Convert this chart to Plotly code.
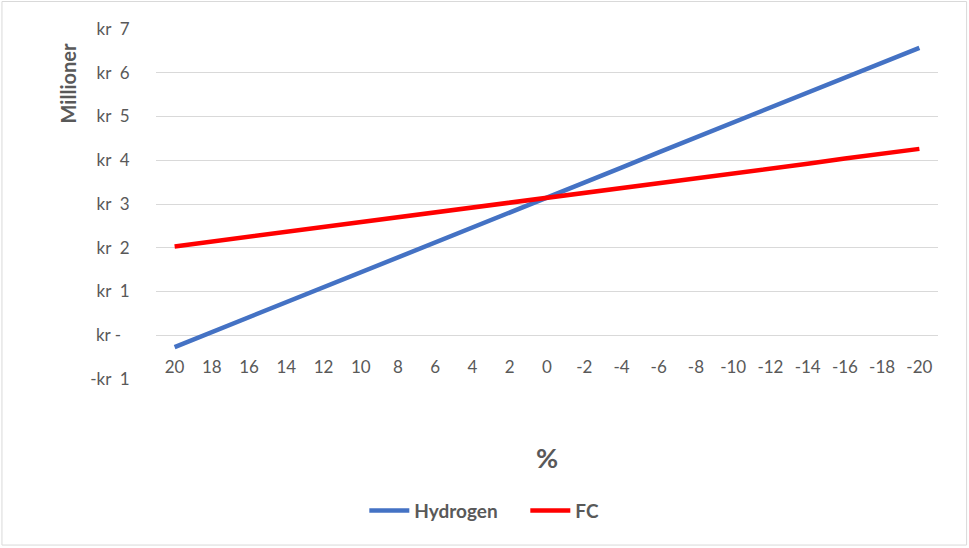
import plotly.graph_objects as go

# Sensitivity of cost (million kr) to percentage change
pct_labels = ["20", "18", "16", "14", "12", "10", "8", "6", "4", "2", "0",
              "-2", "-4", "-6", "-8", "-10", "-12", "-14", "-16", "-18", "-20"]
hydrogen = [-0.27, 0.07, 0.42, 0.76, 1.10, 1.44, 1.79, 2.13, 2.47, 2.81, 3.15,
            3.49, 3.83, 4.18, 4.52, 4.86, 5.20, 5.55, 5.89, 6.23, 6.57]
fc = [2.03, 2.14, 2.25, 2.37, 2.48, 2.59, 2.70, 2.81, 2.92, 3.03, 3.15,
      3.26, 3.37, 3.48, 3.59, 3.70, 3.81, 3.92, 4.04, 4.15, 4.26]

y_ticks = [-1, 0, 1, 2, 3, 4, 5, 6, 7]
y_ticktext = ["-kr\u00a0\u00a01", "kr\u00a0-\u2002", "kr\u00a0\u00a01", "kr\u00a0\u00a02",
              "kr\u00a0\u00a03", "kr\u00a0\u00a04", "kr\u00a0\u00a05", "kr\u00a0\u00a06",
              "kr\u00a0\u00a07"]

W, H = 969, 548
L, R, T, B = 155.6, 31.1, 29, 168.7
pw, ph = W - L - R, H - T - B

FONT = "Lato, 'Open Sans', sans-serif"
GREY = "#595959"

fig = go.Figure()
fig.add_trace(go.Scatter(x=pct_labels, y=hydrogen, mode="lines", name="Hydrogen",
                         line=dict(color="#4472C4", width=4.5)))
fig.add_trace(go.Scatter(x=pct_labels, y=fc, mode="lines", name="FC",
                         line=dict(color="#FF0000", width=4.5)))

y_min, y_max = -1, 7
fig.update_layout(
    width=W, height=H,
    margin=dict(l=L, r=R, t=T, b=B, autoexpand=False),
    paper_bgcolor="white", plot_bgcolor="white",
    font=dict(family=FONT, size=17, color=GREY),
    xaxis=dict(type="category", range=[-0.5, len(pct_labels) - 0.5],
               showgrid=False, zeroline=False, showline=False,
               anchor="free", position=(0 - y_min) / (y_max - y_min),
               ticks="outside", ticklen=16, tickcolor="rgba(0,0,0,0)",
               tickfont=dict(family=FONT, size=17, color=GREY)),
    yaxis=dict(range=[y_min, y_max], tickvals=y_ticks, ticktext=y_ticktext,
               showgrid=True, gridcolor="#D9D9D9", gridwidth=1,
               zeroline=False, showline=False, ticks="outside", ticklen=22,
               tickcolor="rgba(0,0,0,0)",
               tickfont=dict(family=FONT, size=17, color=GREY)),
    showlegend=True,
    legend=dict(orientation="h", x=(364 - L) / pw, xanchor="left",
                y=(T + ph - 511) / ph, yanchor="middle",
                font=dict(family=FONT, size=19, color=GREY, weight="bold"),
                itemwidth=40, entrywidth=106, entrywidthmode="pixels",
                tracegroupgap=0),
)

# axis titles
fig.add_annotation(text="<b>Millioner</b>", textangle=-90, showarrow=False,
                   xref="paper", yref="paper",
                   x=(68 - L) / pw, y=(T + ph - 83) / ph,
                   xanchor="center", yanchor="middle",
                   font=dict(family=FONT, size=20, color=GREY))
fig.add_annotation(text="<b>%</b>", showarrow=False,
                   xref="paper", yref="paper",
                   x=(547 - L) / pw, y=(T + ph - 458) / ph,
                   xanchor="center", yanchor="middle",
                   font=dict(family=FONT, size=27, color=GREY))

# chart border
fig.add_shape(type="rect", xref="paper", yref="paper",
              x0=(1.5 - L) / pw, x1=(966.5 - L) / pw,
              y0=(T + ph - 545.5) / ph, y1=(T + ph - 1.5) / ph,
              line=dict(color="#D9D9D9", width=1), fillcolor="rgba(0,0,0,0)",
              layer="below")

fig.write_html("out.html")
